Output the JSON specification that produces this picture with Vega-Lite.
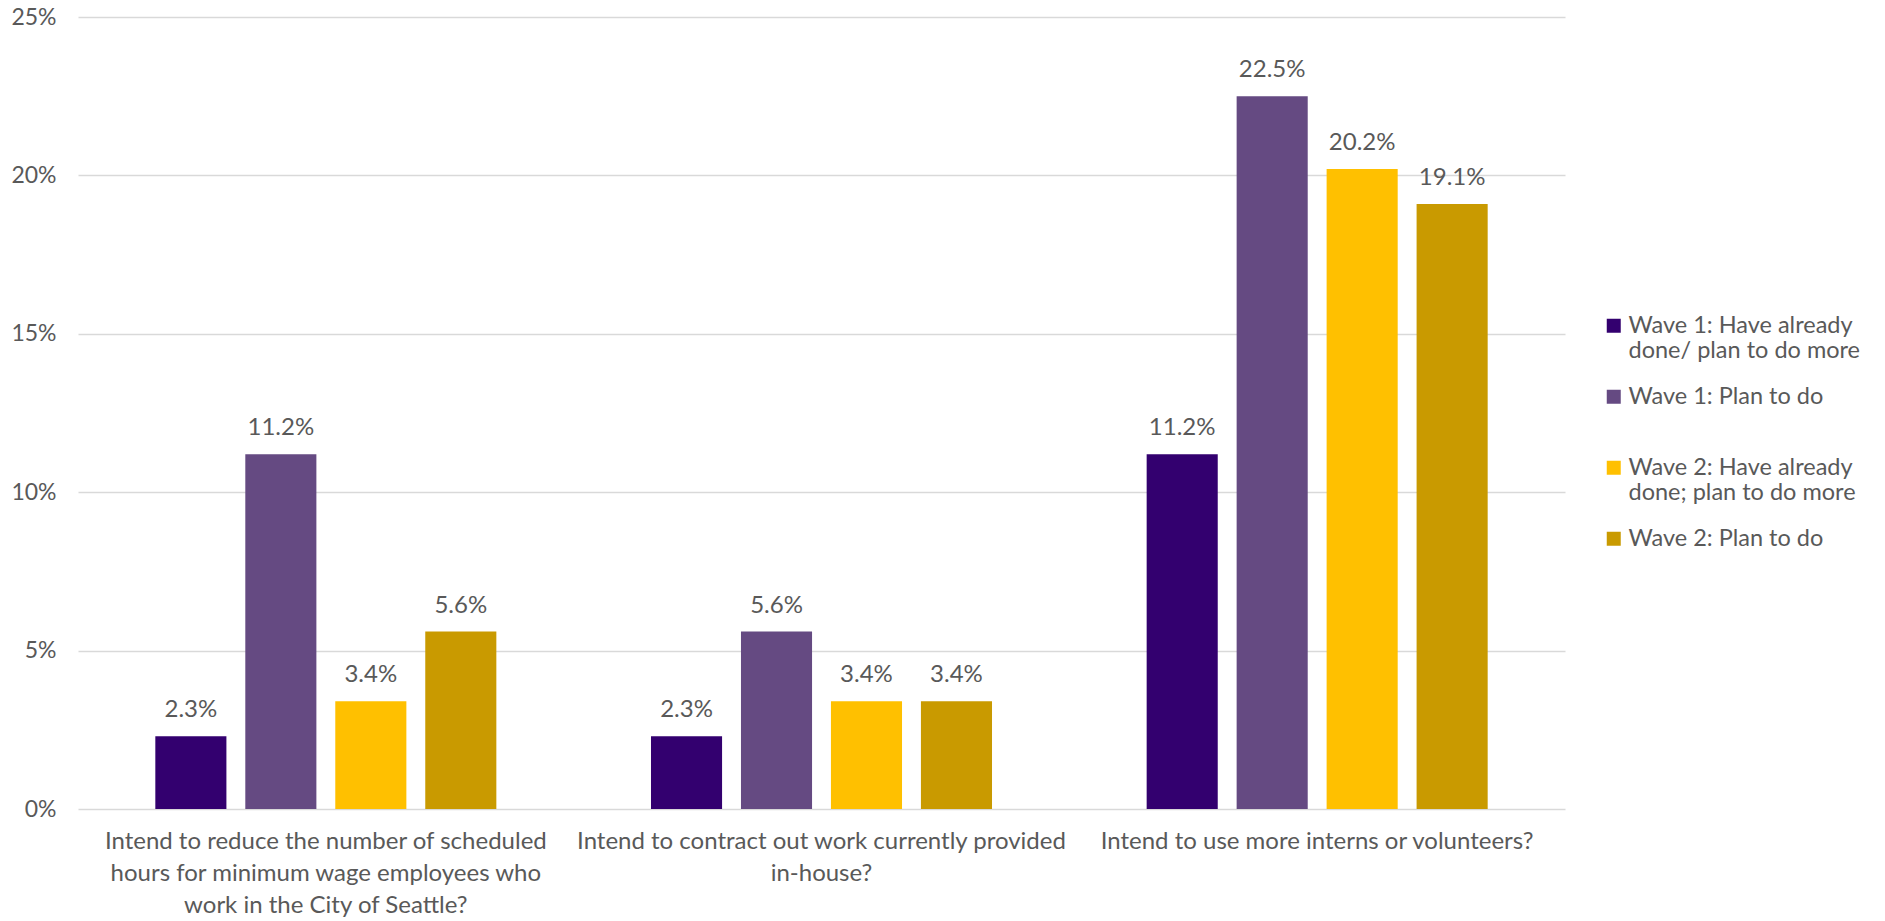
{
  "$schema": "https://vega.github.io/schema/vega-lite/v6.json",
  "width": 1487,
  "height": 792,
  "autosize": {"type": "none"},
  "padding": {"left": 78, "top": 17, "right": 320, "bottom": 112},
  "background": "white",
  "config": {
    "view": {"stroke": null},
    "font": "Lato",
    "axis": {"labelFont": "Lato", "labelColor": "#595959"},
    "legend": {"labelFont": "Lato", "labelColor": "#595959"}
  },
  "data": {
    "values": [
      {"question": "Intend to reduce the number of scheduled hours for minimum wage employees who work in the City of Seattle?", "series": "Wave 1: Have already done/ plan to do more", "value": 0.023},
      {"question": "Intend to reduce the number of scheduled hours for minimum wage employees who work in the City of Seattle?", "series": "Wave 1: Plan to do", "value": 0.112},
      {"question": "Intend to reduce the number of scheduled hours for minimum wage employees who work in the City of Seattle?", "series": "Wave 2: Have already done; plan to do more", "value": 0.034},
      {"question": "Intend to reduce the number of scheduled hours for minimum wage employees who work in the City of Seattle?", "series": "Wave 2: Plan to do", "value": 0.056},
      {"question": "Intend to contract out work currently provided in-house?", "series": "Wave 1: Have already done/ plan to do more", "value": 0.023},
      {"question": "Intend to contract out work currently provided in-house?", "series": "Wave 1: Plan to do", "value": 0.056},
      {"question": "Intend to contract out work currently provided in-house?", "series": "Wave 2: Have already done; plan to do more", "value": 0.034},
      {"question": "Intend to contract out work currently provided in-house?", "series": "Wave 2: Plan to do", "value": 0.034},
      {"question": "Intend to use more interns or volunteers?", "series": "Wave 1: Have already done/ plan to do more", "value": 0.112},
      {"question": "Intend to use more interns or volunteers?", "series": "Wave 1: Plan to do", "value": 0.225},
      {"question": "Intend to use more interns or volunteers?", "series": "Wave 2: Have already done; plan to do more", "value": 0.202},
      {"question": "Intend to use more interns or volunteers?", "series": "Wave 2: Plan to do", "value": 0.191}
    ]
  },
  "encoding": {
    "x": {
      "field": "question",
      "type": "nominal",
      "sort": null,
      "scale": {"paddingInner": 0.312, "paddingOuter": 0.156},
      "axis": {
        "title": null,
        "labelAngle": 0,
        "labelLimit": 0,
        "labelFontSize": 24,
        "labelLineHeight": 32,
        "labelBaseline": "top",
        "labelPadding": 20,
        "domain": false,
        "ticks": false,
        "labelExpr": "datum.value == 'Intend to reduce the number of scheduled hours for minimum wage employees who work in the City of Seattle?' ? ['Intend to reduce the number of scheduled', 'hours for minimum wage employees who', 'work in the City of Seattle?'] : datum.value == 'Intend to contract out work currently provided in-house?' ? ['Intend to contract out work currently provided', 'in-house?'] : datum.value"
      }
    },
    "xOffset": {
      "field": "series",
      "type": "nominal",
      "sort": null,
      "scale": {"paddingInner": 0.21, "paddingOuter": 0}
    },
    "y": {
      "field": "value",
      "type": "quantitative",
      "scale": {"domain": [0, 0.25], "nice": false},
      "axis": {
        "title": null,
        "values": [0, 0.05, 0.1, 0.15, 0.2, 0.25],
        "format": ".0%",
        "labelFontSize": 23,
        "labelPadding": 22,
        "domain": false,
        "ticks": false,
        "gridColor": "#D9D9D9",
        "gridWidth": 1.5
      }
    }
  },
  "layer": [
    {
      "mark": {"type": "bar"},
      "encoding": {
        "color": {
          "field": "series",
          "type": "nominal",
          "sort": null,
          "scale": {
            "domain": ["Wave 1: Have already done/ plan to do more", "Wave 1: Plan to do", "Wave 2: Have already done; plan to do more", "Wave 2: Plan to do"],
            "range": ["#33006F", "#654A82", "#FFC000", "#C99A00"]
          },
          "legend": {
            "title": null,
            "orient": "none",
            "legendX": 1524,
            "legendY": 297,
            "padding": 0,
            "symbolType": "square",
            "symbolSize": 196,
            "symbolStrokeWidth": 0,
            "labelFontSize": 23.5,
            "labelLineHeight": 29,
            "labelOffset": 3,
            "labelLimit": 0,
            "rowPadding": 21,
            "labelExpr": "datum.value == 'Wave 1: Have already done/ plan to do more' ? ['Wave 1: Have already', 'done/ plan to do more'] : datum.value == 'Wave 2: Have already done; plan to do more' ? ['Wave 2: Have already', 'done; plan to do more'] : [datum.value, '']"
          }
        }
      }
    },
    {
      "mark": {"type": "text", "baseline": "alphabetic", "dy": -19, "fontSize": 24, "color": "#595959", "font": "Lato"},
      "encoding": {
        "text": {"field": "value", "type": "quantitative", "format": ".1%"}
      }
    }
  ]
}
